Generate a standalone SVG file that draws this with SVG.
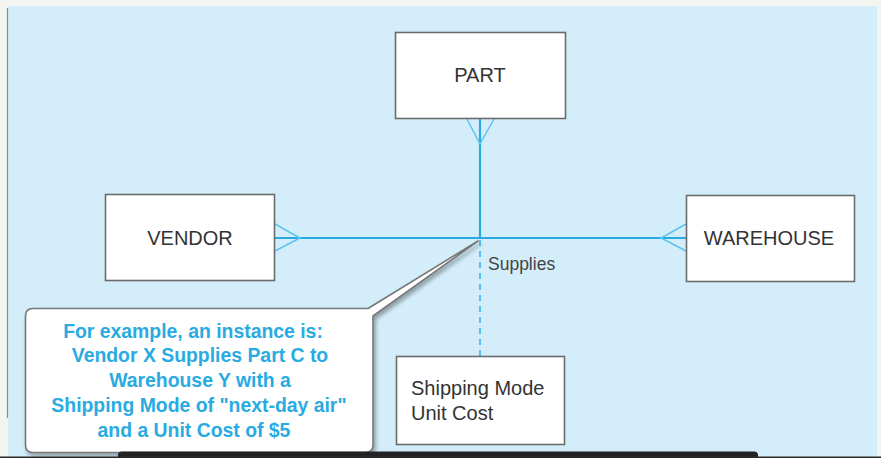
<svg xmlns="http://www.w3.org/2000/svg" width="881" height="458" viewBox="0 0 881 458">
<defs>
<style>
.ent{fill:#fff;stroke:#6b6b6b;stroke-width:1.6}
.et{font-family:"Liberation Sans",Arial,sans-serif;font-size:20px;fill:#333;text-anchor:middle}
.at{font-family:"Liberation Sans",Arial,sans-serif;font-size:20px;fill:#333}
.rel{stroke:#29abe2;stroke-width:2.2;fill:none}
.crow{stroke:#5cc3ee;stroke-width:1.5;fill:none}
.ct{font-family:"Liberation Sans",Arial,sans-serif;font-size:19.4px;font-weight:bold;fill:#29abe2;text-anchor:middle}
</style>
<filter id="sh" x="-10%" y="-10%" width="130%" height="130%">
<feGaussianBlur in="SourceAlpha" stdDeviation="2"/>
<feOffset dx="2" dy="3"/>
<feComponentTransfer><feFuncA type="linear" slope="0.35"/></feComponentTransfer>
<feMerge><feMergeNode/><feMergeNode in="SourceGraphic"/></feMerge>
</filter>
</defs>
<rect x="0" y="0" width="881" height="458" fill="#f3f5f0"/>
<rect x="8" y="6" width="869" height="452" fill="#d3eefa"/>
<line x1="7.5" y1="8" x2="7.5" y2="418" stroke="#8a8a8a" stroke-width="1.2"/>
<g id="connectors">
<line class="rel" x1="480" y1="119" x2="480" y2="238"/>
<polyline class="crow" points="467,119 480,144 494,119"/>
<line class="rel" x1="275" y1="238" x2="686" y2="238"/>
<polyline class="crow" points="275,224 300,238 275,251"/>
<polyline class="crow" points="686,224 661,238 686,251"/>
<line x1="480" y1="240" x2="480" y2="356" stroke="#4cbbec" stroke-width="1.8" stroke-dasharray="6,5"/>
<text x="488" y="270" font-family="Liberation Sans,Arial,sans-serif" font-size="17.5" fill="#444">Supplies</text>
</g>
<g id="part">
<rect class="ent" x="395.5" y="32.5" width="170" height="86"/>
<text class="et" x="480" y="82">PART</text>
</g>
<g id="vendor">
<rect class="ent" x="105.5" y="194.5" width="169" height="86"/>
<text class="et" x="190" y="245">VENDOR</text>
</g>
<g id="warehouse">
<rect class="ent" x="686.5" y="195.5" width="168" height="86"/>
<text class="et" x="769" y="245">WAREHOUSE</text>
</g>
<g id="attributes">
<rect class="ent" x="396.5" y="356.5" width="168" height="88"/>
<text class="at" x="411" y="395">Shipping Mode</text>
<text class="at" x="411" y="420">Unit Cost</text>
</g>
<g id="callout">
<path d="M33,308.5 L368,308.5 L478,241 L373,316 L373,445 Q373,452.5 365,452.5 L33,452.5 Q25.5,452.5 25.5,445 L25.5,316 Q25.5,308.5 33,308.5 Z" fill="#fff" stroke="#777" stroke-width="1.6" stroke-linejoin="round" filter="url(#sh)"/>
<text class="ct" x="193" y="338">For example, an instance is:</text>
<text class="ct" x="200" y="362">Vendor X Supplies Part C to</text>
<text class="ct" x="200" y="387">Warehouse Y with a</text>
<text class="ct" x="199" y="412">Shipping Mode of "next-day air"</text>
<text class="ct" x="194" y="437">and a Unit Cost of $5</text>
</g>
<path d="M118,458 L118,455 Q118,451.5 122,451.5 L754,451.5 Q758,451.5 758,455 L758,458 Z" fill="#222"/>
<rect x="0" y="456.5" width="881" height="1.5" fill="#2a2a2a"/>
</svg>
